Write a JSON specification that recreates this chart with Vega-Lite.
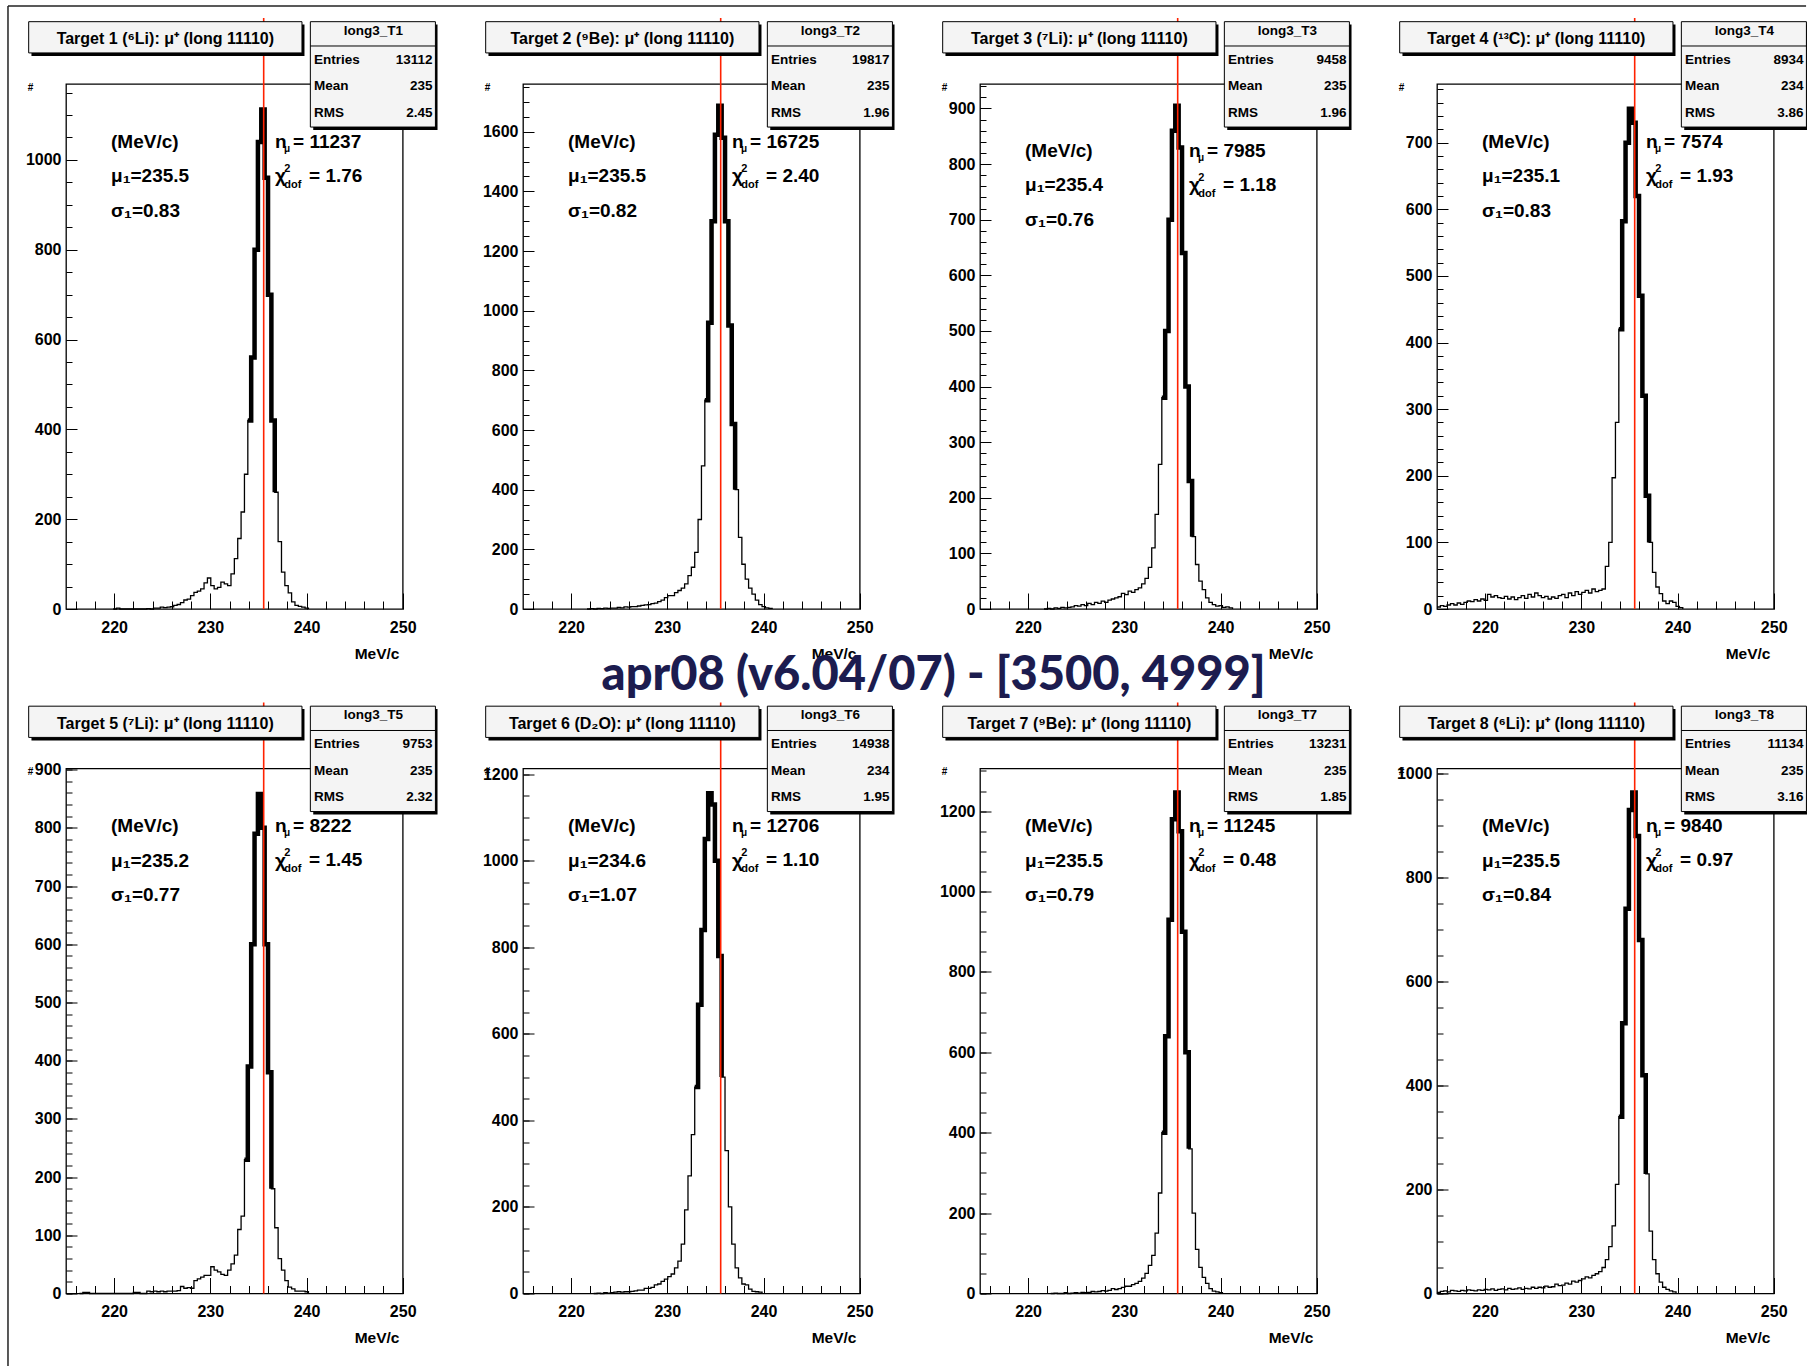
{
"$schema":"https://vega.github.io/schema/vega-lite/v6.json",
"background":"white",
"autosize":{"type":"pad"},
"padding":{"left":6,"top":4,"right":0,"bottom":0},
"datasets":{
"i":[
{"p":1,"t":"Target 1 (⁶Li): μ⁺ (long 11110)","h":"long3_T1","sv":["13112","235","2.45"],"l1":["(MeV/c)","μ₁=235.5","σ₁=0.83"],"nm":"= 11237","ch":"= 1.76"},
{"p":2,"t":"Target 2 (⁹Be): μ⁺ (long 11110)","h":"long3_T2","sv":["19817","235","1.96"],"l1":["(MeV/c)","μ₁=235.5","σ₁=0.82"],"nm":"= 16725","ch":"= 2.40"},
{"p":3,"t":"Target 3 (⁷Li): μ⁺ (long 11110)","h":"long3_T3","sv":["9458","235","1.96"],"l1":["(MeV/c)","μ₁=235.4","σ₁=0.76"],"nm":"= 7985","ch":"= 1.18"},
{"p":4,"t":"Target 4 (¹³C): μ⁺ (long 11110)","h":"long3_T4","sv":["8934","234","3.86"],"l1":["(MeV/c)","μ₁=235.1","σ₁=0.83"],"nm":"= 7574","ch":"= 1.93"},
{"p":5,"t":"Target 5 (⁷Li): μ⁺ (long 11110)","h":"long3_T5","sv":["9753","235","2.32"],"l1":["(MeV/c)","μ₁=235.2","σ₁=0.77"],"nm":"= 8222","ch":"= 1.45"},
{"p":6,"t":"Target 6 (D₂O): μ⁺ (long 11110)","h":"long3_T6","sv":["14938","234","1.95"],"l1":["(MeV/c)","μ₁=234.6","σ₁=1.07"],"nm":"= 12706","ch":"= 1.10"},
{"p":7,"t":"Target 7 (⁹Be): μ⁺ (long 11110)","h":"long3_T7","sv":["13231","235","1.85"],"l1":["(MeV/c)","μ₁=235.5","σ₁=0.79"],"nm":"= 11245","ch":"= 0.48"},
{"p":8,"t":"Target 8 (⁶Li): μ⁺ (long 11110)","h":"long3_T8","sv":["11134","235","3.16"],"l1":["(MeV/c)","μ₁=235.5","σ₁=0.84"],"nm":"= 9840","ch":"= 0.97"}
],
"h1":[{"x":219.9,"y":0},{"x":220.25,"y":2},{"x":220.6,"y":0},{"x":223.4,"y":1},{"x":223.75,"y":0},{"x":224.1,"y":2},{"x":224.45,"y":2},{"x":224.8,"y":4},{"x":225.15,"y":3},{"x":225.5,"y":4},{"x":225.85,"y":5},{"x":226.2,"y":8},{"x":226.55,"y":10},{"x":226.9,"y":14},{"x":227.25,"y":20},{"x":227.6,"y":22},{"x":227.95,"y":30},{"x":228.3,"y":37},{"x":228.65,"y":40},{"x":229,"y":45},{"x":229.35,"y":58},{"x":229.7,"y":69},{"x":230.05,"y":52},{"x":230.4,"y":45},{"x":230.75,"y":48},{"x":231.1,"y":60},{"x":231.45,"y":56},{"x":231.8,"y":52},{"x":232.15,"y":78},{"x":232.5,"y":112},{"x":232.85,"y":157},{"x":233.2,"y":216},{"x":233.55,"y":300},{"x":233.9,"y":420,"f":1},{"x":234.25,"y":560,"f":1},{"x":234.6,"y":800,"f":1},{"x":234.95,"y":1040,"f":1},{"x":235.3,"y":1112,"f":1},{"x":235.65,"y":960,"f":1},{"x":236,"y":700,"f":1},{"x":236.35,"y":420,"f":1},{"x":236.7,"y":260,"f":1},{"x":237.05,"y":150},{"x":237.4,"y":82},{"x":237.75,"y":52},{"x":238.1,"y":36},{"x":238.45,"y":16},{"x":238.8,"y":8},{"x":239.15,"y":6},{"x":239.5,"y":4},{"x":239.85,"y":2},{"x":240.2,"y":0}],
"h2":[{"x":221.65,"y":0},{"x":222,"y":1},{"x":222.35,"y":0},{"x":222.7,"y":2},{"x":223.05,"y":1},{"x":223.4,"y":3},{"x":223.75,"y":2},{"x":224.1,"y":3},{"x":224.45,"y":3},{"x":224.8,"y":5},{"x":225.15,"y":4},{"x":225.5,"y":7},{"x":225.85,"y":6},{"x":226.2,"y":8},{"x":226.55,"y":8},{"x":226.9,"y":10},{"x":227.25,"y":12},{"x":227.6,"y":14},{"x":227.95,"y":15},{"x":228.3,"y":18},{"x":228.65,"y":20},{"x":229,"y":25},{"x":229.35,"y":30},{"x":229.7,"y":38},{"x":230.05,"y":45},{"x":230.4,"y":45},{"x":230.75,"y":55},{"x":231.1,"y":62},{"x":231.45,"y":70},{"x":231.8,"y":84},{"x":232.15,"y":112},{"x":232.5,"y":140},{"x":232.85,"y":190},{"x":233.2,"y":300},{"x":233.55,"y":480},{"x":233.9,"y":700,"f":1},{"x":234.25,"y":960,"f":1},{"x":234.6,"y":1300,"f":1},{"x":234.95,"y":1590,"f":1},{"x":235.3,"y":1687,"f":1},{"x":235.65,"y":1580,"f":1},{"x":236,"y":1300,"f":1},{"x":236.35,"y":950,"f":1},{"x":236.7,"y":620,"f":1},{"x":237.05,"y":400,"f":1},{"x":237.4,"y":240},{"x":237.75,"y":150},{"x":238.1,"y":100},{"x":238.45,"y":70},{"x":238.8,"y":50},{"x":239.15,"y":30},{"x":239.5,"y":15},{"x":239.85,"y":8},{"x":240.2,"y":4},{"x":240.55,"y":2},{"x":240.9,"y":0}],
"h3":[{"x":221.65,"y":0},{"x":222,"y":1},{"x":222.35,"y":0},{"x":222.7,"y":2},{"x":223.05,"y":1},{"x":223.4,"y":3},{"x":223.75,"y":2},{"x":224.1,"y":3},{"x":224.45,"y":4},{"x":224.8,"y":6},{"x":225.15,"y":5},{"x":225.5,"y":8},{"x":225.85,"y":6},{"x":226.2,"y":10},{"x":226.55,"y":8},{"x":226.9,"y":12},{"x":227.25,"y":10},{"x":227.6,"y":14},{"x":227.95,"y":12},{"x":228.3,"y":16},{"x":228.65,"y":18},{"x":229,"y":20},{"x":229.35,"y":22},{"x":229.7,"y":28},{"x":230.05,"y":26},{"x":230.4,"y":32},{"x":230.75,"y":30},{"x":231.1,"y":35},{"x":231.45,"y":38},{"x":231.8,"y":45},{"x":232.15,"y":55},{"x":232.5,"y":75},{"x":232.85,"y":110},{"x":233.2,"y":170},{"x":233.55,"y":260},{"x":233.9,"y":380,"f":1},{"x":234.25,"y":500,"f":1},{"x":234.6,"y":700,"f":1},{"x":234.95,"y":860,"f":1},{"x":235.3,"y":905,"f":1},{"x":235.65,"y":830,"f":1},{"x":236,"y":640,"f":1},{"x":236.35,"y":400,"f":1},{"x":236.7,"y":230,"f":1},{"x":237.05,"y":130,"f":1},{"x":237.4,"y":80},{"x":237.75,"y":50},{"x":238.1,"y":35},{"x":238.45,"y":20},{"x":238.8,"y":12},{"x":239.15,"y":8},{"x":239.5,"y":5},{"x":239.85,"y":6},{"x":240.2,"y":3},{"x":240.55,"y":4},{"x":240.9,"y":2},{"x":241.25,"y":0}],
"h4":[{"x":215,"y":3},{"x":215.35,"y":5},{"x":215.7,"y":4},{"x":216.05,"y":6},{"x":216.4,"y":8},{"x":216.75,"y":6},{"x":217.1,"y":9},{"x":217.45,"y":7},{"x":217.8,"y":10},{"x":218.15,"y":12},{"x":218.5,"y":11},{"x":218.85,"y":14},{"x":219.2,"y":12},{"x":219.55,"y":15},{"x":219.9,"y":13},{"x":220.25,"y":22},{"x":220.6,"y":18},{"x":220.95,"y":20},{"x":221.3,"y":17},{"x":221.65,"y":16},{"x":222,"y":19},{"x":222.35,"y":15},{"x":222.7,"y":18},{"x":223.05,"y":14},{"x":223.4,"y":17},{"x":223.75,"y":20},{"x":224.1,"y":16},{"x":224.45,"y":22},{"x":224.8,"y":18},{"x":225.15,"y":24},{"x":225.5,"y":20},{"x":225.85,"y":17},{"x":226.2,"y":19},{"x":226.55,"y":15},{"x":226.9,"y":18},{"x":227.25,"y":16},{"x":227.6,"y":20},{"x":227.95,"y":22},{"x":228.3,"y":17},{"x":228.65,"y":24},{"x":229,"y":20},{"x":229.35,"y":26},{"x":229.7,"y":22},{"x":230.05,"y":25},{"x":230.4,"y":28},{"x":230.75,"y":24},{"x":231.1,"y":30},{"x":231.45,"y":26},{"x":231.8,"y":28},{"x":232.15,"y":30},{"x":232.5,"y":64},{"x":232.85,"y":100},{"x":233.2,"y":197},{"x":233.55,"y":280},{"x":233.9,"y":420,"f":1},{"x":234.25,"y":582,"f":1},{"x":234.6,"y":700,"f":1},{"x":234.95,"y":751,"f":1},{"x":235.3,"y":730,"f":1},{"x":235.65,"y":620,"f":1},{"x":236,"y":470,"f":1},{"x":236.35,"y":320,"f":1},{"x":236.7,"y":170,"f":1},{"x":237.05,"y":100,"f":1},{"x":237.4,"y":55},{"x":237.75,"y":33},{"x":238.1,"y":23},{"x":238.45,"y":12},{"x":238.8,"y":8},{"x":239.15,"y":12},{"x":239.5,"y":10},{"x":239.85,"y":4},{"x":240.2,"y":2},{"x":240.55,"y":0}],
"h5":[{"x":216.4,"y":0},{"x":216.75,"y":2},{"x":217.1,"y":2},{"x":217.45,"y":0},{"x":222,"y":2},{"x":222.35,"y":2},{"x":222.7,"y":0},{"x":223.4,"y":4},{"x":223.75,"y":3},{"x":224.1,"y":4},{"x":224.45,"y":3},{"x":224.8,"y":4},{"x":225.15,"y":3},{"x":225.5,"y":4},{"x":225.85,"y":4},{"x":226.2,"y":4},{"x":226.55,"y":5},{"x":226.9,"y":12},{"x":227.25,"y":9},{"x":227.6,"y":10},{"x":227.95,"y":9},{"x":228.3,"y":22},{"x":228.65,"y":25},{"x":229,"y":28},{"x":229.35,"y":31},{"x":229.7,"y":31},{"x":230.05,"y":46},{"x":230.4,"y":40},{"x":230.75,"y":37},{"x":231.1,"y":33},{"x":231.45,"y":31},{"x":231.8,"y":40},{"x":232.15,"y":51},{"x":232.5,"y":66},{"x":232.85,"y":110},{"x":233.2,"y":133},{"x":233.55,"y":230,"f":1},{"x":233.9,"y":390,"f":1},{"x":234.25,"y":600,"f":1},{"x":234.6,"y":790,"f":1},{"x":234.95,"y":858,"f":1},{"x":235.3,"y":800,"f":1},{"x":235.65,"y":600,"f":1},{"x":236,"y":380,"f":1},{"x":236.35,"y":180,"f":1},{"x":236.7,"y":113},{"x":237.05,"y":60},{"x":237.4,"y":40},{"x":237.75,"y":22},{"x":238.1,"y":11},{"x":238.45,"y":8},{"x":238.8,"y":4},{"x":239.15,"y":4},{"x":239.5,"y":4},{"x":239.85,"y":3},{"x":240.2,"y":0}],
"h6":[{"x":222.35,"y":0},{"x":222.7,"y":1},{"x":223.05,"y":0},{"x":223.4,"y":2},{"x":223.75,"y":1},{"x":224.1,"y":2},{"x":224.45,"y":3},{"x":224.8,"y":4},{"x":225.15,"y":3},{"x":225.5,"y":4},{"x":225.85,"y":4},{"x":226.2,"y":5},{"x":226.55,"y":6},{"x":226.9,"y":8},{"x":227.25,"y":8},{"x":227.6,"y":12},{"x":227.95,"y":12},{"x":228.3,"y":14},{"x":228.65,"y":20},{"x":229,"y":22},{"x":229.35,"y":28},{"x":229.7,"y":33},{"x":230.05,"y":39},{"x":230.4,"y":45},{"x":230.75,"y":59},{"x":231.1,"y":75},{"x":231.45,"y":114},{"x":231.8,"y":193},{"x":232.15,"y":272},{"x":232.5,"y":367},{"x":232.85,"y":477,"f":1},{"x":233.2,"y":667,"f":1},{"x":233.55,"y":840,"f":1},{"x":233.9,"y":1050,"f":1},{"x":234.25,"y":1156,"f":1},{"x":234.6,"y":1130,"f":1},{"x":234.95,"y":1000,"f":1},{"x":235.3,"y":780,"f":1},{"x":235.65,"y":500,"f":1},{"x":236,"y":330},{"x":236.35,"y":200},{"x":236.7,"y":114},{"x":237.05,"y":59},{"x":237.4,"y":36},{"x":237.75,"y":22},{"x":238.1,"y":20},{"x":238.45,"y":10},{"x":238.8,"y":5},{"x":239.15,"y":4},{"x":239.5,"y":3},{"x":239.85,"y":0}],
"h7":[{"x":222.35,"y":0},{"x":222.7,"y":1},{"x":223.05,"y":0},{"x":223.75,"y":2},{"x":224.1,"y":0},{"x":224.45,"y":1},{"x":224.8,"y":2},{"x":225.15,"y":1},{"x":225.5,"y":3},{"x":225.85,"y":2},{"x":226.2,"y":3},{"x":226.55,"y":5},{"x":226.9,"y":4},{"x":227.25,"y":5},{"x":227.6,"y":7},{"x":227.95,"y":6},{"x":228.3,"y":8},{"x":228.65,"y":12},{"x":229,"y":10},{"x":229.35,"y":12},{"x":229.7,"y":15},{"x":230.05,"y":18},{"x":230.4,"y":18},{"x":230.75,"y":22},{"x":231.1,"y":25},{"x":231.45,"y":30},{"x":231.8,"y":38},{"x":232.15,"y":50},{"x":232.5,"y":70},{"x":232.85,"y":95},{"x":233.2,"y":150},{"x":233.55,"y":250},{"x":233.9,"y":400,"f":1},{"x":234.25,"y":640,"f":1},{"x":234.6,"y":930,"f":1},{"x":234.95,"y":1180,"f":1},{"x":235.3,"y":1246,"f":1},{"x":235.65,"y":1150,"f":1},{"x":236,"y":900,"f":1},{"x":236.35,"y":600,"f":1},{"x":236.7,"y":360,"f":1},{"x":237.05,"y":200},{"x":237.4,"y":110},{"x":237.75,"y":65},{"x":238.1,"y":40},{"x":238.45,"y":25},{"x":238.8,"y":12},{"x":239.15,"y":6},{"x":239.5,"y":4},{"x":239.85,"y":2},{"x":240.2,"y":0}],
"h8":[{"x":215,"y":2},{"x":215.35,"y":4},{"x":215.7,"y":5},{"x":216.05,"y":3},{"x":216.4,"y":6},{"x":216.75,"y":5},{"x":217.1,"y":4},{"x":217.45,"y":6},{"x":217.8,"y":5},{"x":218.15,"y":7},{"x":218.5,"y":6},{"x":218.85,"y":5},{"x":219.2,"y":7},{"x":219.55,"y":6},{"x":219.9,"y":8},{"x":220.25,"y":7},{"x":220.6,"y":9},{"x":220.95,"y":6},{"x":221.3,"y":8},{"x":221.65,"y":9},{"x":222,"y":7},{"x":222.35,"y":10},{"x":222.7,"y":8},{"x":223.05,"y":9},{"x":223.4,"y":11},{"x":223.75,"y":8},{"x":224.1,"y":10},{"x":224.45,"y":9},{"x":224.8,"y":12},{"x":225.15,"y":10},{"x":225.5,"y":12},{"x":225.85,"y":11},{"x":226.2,"y":14},{"x":226.55,"y":12},{"x":226.9,"y":13},{"x":227.25,"y":18},{"x":227.6,"y":15},{"x":227.95,"y":16},{"x":228.3,"y":20},{"x":228.65,"y":18},{"x":229,"y":24},{"x":229.35,"y":22},{"x":229.7,"y":25},{"x":230.05,"y":28},{"x":230.4,"y":32},{"x":230.75,"y":30},{"x":231.1,"y":35},{"x":231.45,"y":38},{"x":231.8,"y":42},{"x":232.15,"y":50},{"x":232.5,"y":65},{"x":232.85,"y":90},{"x":233.2,"y":130},{"x":233.55,"y":210},{"x":233.9,"y":340,"f":1},{"x":234.25,"y":520,"f":1},{"x":234.6,"y":740,"f":1},{"x":234.95,"y":930,"f":1},{"x":235.3,"y":964,"f":1},{"x":235.65,"y":880,"f":1},{"x":236,"y":680,"f":1},{"x":236.35,"y":420,"f":1},{"x":236.7,"y":230,"f":1},{"x":237.05,"y":120},{"x":237.4,"y":65},{"x":237.75,"y":38},{"x":238.1,"y":22},{"x":238.45,"y":12},{"x":238.8,"y":8},{"x":239.15,"y":5},{"x":239.5,"y":3},{"x":239.85,"y":0}]
},
"columns":4,
"spacing":{"row":159.5,"column":120},
"bounds":"flush",
"concat":[
{"data":{"name":"i"},"transform":[{"filter":"datum.p===1"}],"width":336.7,"height":525,
"resolve":{"scale":{"y":"independent"},"axis":{"x":"independent","y":"independent"}},
"layer":[
{"data":{"name":"h1"},"mark":{"type":"line","interpolate":"step-after","color":"black","strokeWidth":1.3},"encoding":{"x":{"field":"x","type":"quantitative","scale":{"domain":[215,250]},"axis":{"values":[220,230,240,250],"title":"MeV/c"}},"y":{"field":"y","type":"quantitative","scale":{"domain":[0,1169]},"axis":{"tickCount":7,"title":"#"}}}},
{"data":{"name":"h1"},"transform":[{"filter":"datum.f===1"}],"mark":{"type":"line","interpolate":"step-after","color":"black","strokeWidth":4.5},"encoding":{"x":{"field":"x","type":"quantitative","scale":{"domain":[215,250]},"axis":{"values":[216,218,222,224,226,228,232,234,236,238,242,244,246,248],"tickSize":-8,"labels":false,"title":null,"orient":"bottom"}},"y":{"field":"y","type":"quantitative","scale":{"domain":[0,1169]},"axis":{"tickCount":31,"tickSize":-6,"labels":false,"title":null,"orient":"left"}}}},
{"mark":{"type":"rule","color":"#ff2200","strokeWidth":1.6},"encoding":{"x":{"datum":235.55,"type":"quantitative","scale":{"domain":[215,250]},"axis":null},"y":{"datum":0,"type":"quantitative","scale":{"domain":[0,1]},"axis":null},"y2":{"datum":1.1257}}},
{"mark":{"type":"rect","fill":"black"},"encoding":{"x":{"datum":211.41,"type":"quantitative","scale":{"domain":[215,250]},"axis":null},"x2":{"datum":239.79},"y":{"datum":1.0535,"type":"quantitative","scale":{"domain":[0,1]},"axis":null},"y2":{"datum":1.1133}}},
{"mark":{"type":"rect","fill":"#f4f4f4","stroke":"black","strokeWidth":1},"encoding":{"x":{"datum":211.12,"type":"quantitative","scale":{"domain":[215,250]},"axis":null},"x2":{"datum":239.53},"y":{"datum":1.0592,"type":"quantitative","scale":{"domain":[0,1]},"axis":null},"y2":{"datum":1.1187}}},
{"mark":{"type":"rect","fill":"black"},"encoding":{"x":{"datum":240.7,"type":"quantitative","scale":{"domain":[215,250]},"axis":null},"x2":{"datum":253.62},"y":{"datum":0.9124,"type":"quantitative","scale":{"domain":[0,1]},"axis":null},"y2":{"datum":1.1133}}},
{"mark":{"type":"rect","fill":"#f4f4f4","stroke":"black","strokeWidth":1},"encoding":{"x":{"datum":240.4,"type":"quantitative","scale":{"domain":[215,250]},"axis":null},"x2":{"datum":253.4},"y":{"datum":0.918,"type":"quantitative","scale":{"domain":[0,1]},"axis":null},"y2":{"datum":1.1187}}},
{"mark":{"type":"rule","color":"black","strokeWidth":1},"encoding":{"x":{"datum":240.4,"type":"quantitative","scale":{"domain":[215,250]},"axis":null},"x2":{"datum":253.4},"y":{"datum":1.0724,"type":"quantitative","scale":{"domain":[0,1]},"axis":null}}},
{"mark":{"type":"text","fontSize":16,"align":"center","baseline":"middle"},"encoding":{"x":{"datum":225.33,"type":"quantitative","scale":{"domain":[215,250]},"axis":null},"y":{"datum":1.0857,"type":"quantitative","scale":{"domain":[0,1]},"axis":null},"text":{"field":"t","type":"nominal"}}},
{"mark":{"type":"text","fontSize":13.5,"align":"center","baseline":"middle"},"encoding":{"x":{"datum":246.95,"type":"quantitative","scale":{"domain":[215,250]},"axis":null},"y":{"datum":1.101,"type":"quantitative","scale":{"domain":[0,1]},"axis":null},"text":{"field":"h","type":"nominal"}}},
{"mark":{"type":"text","fontSize":13.5,"align":"left","baseline":"middle","lineHeight":26.5},"encoding":{"x":{"datum":240.78,"type":"quantitative","scale":{"domain":[215,250]},"axis":null},"y":{"datum":1.0461,"type":"quantitative","scale":{"domain":[0,1]},"axis":null},"text":{"value":["Entries","Mean","RMS"]}}},
{"mark":{"type":"text","fontSize":13.5,"align":"right","baseline":"middle","lineHeight":26.5},"encoding":{"x":{"datum":253.1,"type":"quantitative","scale":{"domain":[215,250]},"axis":null},"y":{"datum":1.0461,"type":"quantitative","scale":{"domain":[0,1]},"axis":null},"text":{"field":"sv","type":"nominal"}}},
{"mark":{"type":"text","fontSize":19,"align":"left","baseline":"middle","lineHeight":34.5},"encoding":{"x":{"datum":219.68,"type":"quantitative","scale":{"domain":[215,250]},"axis":null},"y":{"datum":0.8903,"type":"quantitative","scale":{"domain":[0,1]},"axis":null},"text":{"field":"l1","type":"nominal"}}},
{"mark":{"type":"text","fontSize":19,"align":"left","baseline":"middle","lineHeight":34.5},"encoding":{"x":{"datum":236.73,"type":"quantitative","scale":{"domain":[215,250]},"axis":null},"y":{"datum":0.8903,"type":"quantitative","scale":{"domain":[0,1]},"axis":null},"text":{"value":["n","χ"]}}},
{"mark":{"type":"text","fontSize":10,"align":"left","baseline":"middle"},"encoding":{"x":{"datum":237.66,"type":"quantitative","scale":{"domain":[215,250]},"axis":null},"y":{"datum":0.8762,"type":"quantitative","scale":{"domain":[0,1]},"axis":null},"text":{"value":"μ"}}},
{"mark":{"type":"text","fontSize":11,"align":"left","baseline":"middle","lineHeight":16},"encoding":{"x":{"datum":237.7,"type":"quantitative","scale":{"domain":[215,250]},"axis":null},"y":{"datum":0.8381,"type":"quantitative","scale":{"domain":[0,1]},"axis":null},"text":{"value":["2","dof"]}}},
{"mark":{"type":"text","fontSize":19,"align":"left","baseline":"middle"},"encoding":{"x":{"datum":238.6,"type":"quantitative","scale":{"domain":[215,250]},"axis":null},"y":{"datum":0.8903,"type":"quantitative","scale":{"domain":[0,1]},"axis":null},"text":{"field":"nm","type":"nominal"}}},
{"mark":{"type":"text","fontSize":19,"align":"left","baseline":"middle"},"encoding":{"x":{"datum":240.26,"type":"quantitative","scale":{"domain":[215,250]},"axis":null},"y":{"datum":0.8248,"type":"quantitative","scale":{"domain":[0,1]},"axis":null},"text":{"field":"ch","type":"nominal"}}},
{"mark":{"type":"rule","color":"#222222","strokeWidth":1.5},"encoding":{"x":{"datum":208.97,"type":"quantitative","scale":{"domain":[215,250]},"axis":null},"x2":{"datum":395.88},"y":{"datum":1.1486,"type":"quantitative","scale":{"domain":[0,1]},"axis":null}}},
{"mark":{"type":"rule","color":"#222222","strokeWidth":1.5},"encoding":{"x":{"datum":208.97,"type":"quantitative","scale":{"domain":[215,250]},"axis":null},"y":{"datum":1.1486,"type":"quantitative","scale":{"domain":[0,1]},"axis":null},"y2":{"datum":-1.4419}}}
]},
{"data":{"name":"i"},"transform":[{"filter":"datum.p===2"}],"width":336.7,"height":525,
"resolve":{"scale":{"y":"independent"},"axis":{"x":"independent","y":"independent"}},
"layer":[
{"data":{"name":"h2"},"mark":{"type":"line","interpolate":"step-after","color":"black","strokeWidth":1.3},"encoding":{"x":{"field":"x","type":"quantitative","scale":{"domain":[215,250]},"axis":{"values":[220,230,240,250],"title":"MeV/c"}},"y":{"field":"y","type":"quantitative","scale":{"domain":[0,1760]},"axis":{"tickCount":7,"title":"#"}}}},
{"data":{"name":"h2"},"transform":[{"filter":"datum.f===1"}],"mark":{"type":"line","interpolate":"step-after","color":"black","strokeWidth":4.5},"encoding":{"x":{"field":"x","type":"quantitative","scale":{"domain":[215,250]},"axis":{"values":[216,218,222,224,226,228,232,234,236,238,242,244,246,248],"tickSize":-8,"labels":false,"title":null,"orient":"bottom"}},"y":{"field":"y","type":"quantitative","scale":{"domain":[0,1760]},"axis":{"tickCount":31,"tickSize":-6,"labels":false,"title":null,"orient":"left"}}}},
{"mark":{"type":"rule","color":"#ff2200","strokeWidth":1.6},"encoding":{"x":{"datum":235.55,"type":"quantitative","scale":{"domain":[215,250]},"axis":null},"y":{"datum":0,"type":"quantitative","scale":{"domain":[0,1]},"axis":null},"y2":{"datum":1.1257}}},
{"mark":{"type":"rect","fill":"black"},"encoding":{"x":{"datum":211.41,"type":"quantitative","scale":{"domain":[215,250]},"axis":null},"x2":{"datum":239.79},"y":{"datum":1.0535,"type":"quantitative","scale":{"domain":[0,1]},"axis":null},"y2":{"datum":1.1133}}},
{"mark":{"type":"rect","fill":"#f4f4f4","stroke":"black","strokeWidth":1},"encoding":{"x":{"datum":211.12,"type":"quantitative","scale":{"domain":[215,250]},"axis":null},"x2":{"datum":239.53},"y":{"datum":1.0592,"type":"quantitative","scale":{"domain":[0,1]},"axis":null},"y2":{"datum":1.1187}}},
{"mark":{"type":"rect","fill":"black"},"encoding":{"x":{"datum":240.7,"type":"quantitative","scale":{"domain":[215,250]},"axis":null},"x2":{"datum":253.62},"y":{"datum":0.9124,"type":"quantitative","scale":{"domain":[0,1]},"axis":null},"y2":{"datum":1.1133}}},
{"mark":{"type":"rect","fill":"#f4f4f4","stroke":"black","strokeWidth":1},"encoding":{"x":{"datum":240.4,"type":"quantitative","scale":{"domain":[215,250]},"axis":null},"x2":{"datum":253.4},"y":{"datum":0.918,"type":"quantitative","scale":{"domain":[0,1]},"axis":null},"y2":{"datum":1.1187}}},
{"mark":{"type":"rule","color":"black","strokeWidth":1},"encoding":{"x":{"datum":240.4,"type":"quantitative","scale":{"domain":[215,250]},"axis":null},"x2":{"datum":253.4},"y":{"datum":1.0724,"type":"quantitative","scale":{"domain":[0,1]},"axis":null}}},
{"mark":{"type":"text","fontSize":16,"align":"center","baseline":"middle"},"encoding":{"x":{"datum":225.33,"type":"quantitative","scale":{"domain":[215,250]},"axis":null},"y":{"datum":1.0857,"type":"quantitative","scale":{"domain":[0,1]},"axis":null},"text":{"field":"t","type":"nominal"}}},
{"mark":{"type":"text","fontSize":13.5,"align":"center","baseline":"middle"},"encoding":{"x":{"datum":246.95,"type":"quantitative","scale":{"domain":[215,250]},"axis":null},"y":{"datum":1.101,"type":"quantitative","scale":{"domain":[0,1]},"axis":null},"text":{"field":"h","type":"nominal"}}},
{"mark":{"type":"text","fontSize":13.5,"align":"left","baseline":"middle","lineHeight":26.5},"encoding":{"x":{"datum":240.78,"type":"quantitative","scale":{"domain":[215,250]},"axis":null},"y":{"datum":1.0461,"type":"quantitative","scale":{"domain":[0,1]},"axis":null},"text":{"value":["Entries","Mean","RMS"]}}},
{"mark":{"type":"text","fontSize":13.5,"align":"right","baseline":"middle","lineHeight":26.5},"encoding":{"x":{"datum":253.1,"type":"quantitative","scale":{"domain":[215,250]},"axis":null},"y":{"datum":1.0461,"type":"quantitative","scale":{"domain":[0,1]},"axis":null},"text":{"field":"sv","type":"nominal"}}},
{"mark":{"type":"text","fontSize":19,"align":"left","baseline":"middle","lineHeight":34.5},"encoding":{"x":{"datum":219.68,"type":"quantitative","scale":{"domain":[215,250]},"axis":null},"y":{"datum":0.8903,"type":"quantitative","scale":{"domain":[0,1]},"axis":null},"text":{"field":"l1","type":"nominal"}}},
{"mark":{"type":"text","fontSize":19,"align":"left","baseline":"middle","lineHeight":34.5},"encoding":{"x":{"datum":236.73,"type":"quantitative","scale":{"domain":[215,250]},"axis":null},"y":{"datum":0.8903,"type":"quantitative","scale":{"domain":[0,1]},"axis":null},"text":{"value":["n","χ"]}}},
{"mark":{"type":"text","fontSize":10,"align":"left","baseline":"middle"},"encoding":{"x":{"datum":237.66,"type":"quantitative","scale":{"domain":[215,250]},"axis":null},"y":{"datum":0.8762,"type":"quantitative","scale":{"domain":[0,1]},"axis":null},"text":{"value":"μ"}}},
{"mark":{"type":"text","fontSize":11,"align":"left","baseline":"middle","lineHeight":16},"encoding":{"x":{"datum":237.7,"type":"quantitative","scale":{"domain":[215,250]},"axis":null},"y":{"datum":0.8381,"type":"quantitative","scale":{"domain":[0,1]},"axis":null},"text":{"value":["2","dof"]}}},
{"mark":{"type":"text","fontSize":19,"align":"left","baseline":"middle"},"encoding":{"x":{"datum":238.6,"type":"quantitative","scale":{"domain":[215,250]},"axis":null},"y":{"datum":0.8903,"type":"quantitative","scale":{"domain":[0,1]},"axis":null},"text":{"field":"nm","type":"nominal"}}},
{"mark":{"type":"text","fontSize":19,"align":"left","baseline":"middle"},"encoding":{"x":{"datum":240.26,"type":"quantitative","scale":{"domain":[215,250]},"axis":null},"y":{"datum":0.8248,"type":"quantitative","scale":{"domain":[0,1]},"axis":null},"text":{"field":"ch","type":"nominal"}}}
]},
{"data":{"name":"i"},"transform":[{"filter":"datum.p===3"}],"width":336.7,"height":525,
"resolve":{"scale":{"y":"independent"},"axis":{"x":"independent","y":"independent"}},
"layer":[
{"data":{"name":"h3"},"mark":{"type":"line","interpolate":"step-after","color":"black","strokeWidth":1.3},"encoding":{"x":{"field":"x","type":"quantitative","scale":{"domain":[215,250]},"axis":{"values":[220,230,240,250],"title":"MeV/c"}},"y":{"field":"y","type":"quantitative","scale":{"domain":[0,944]},"axis":{"tickCount":7,"title":"#"}}}},
{"data":{"name":"h3"},"transform":[{"filter":"datum.f===1"}],"mark":{"type":"line","interpolate":"step-after","color":"black","strokeWidth":4.5},"encoding":{"x":{"field":"x","type":"quantitative","scale":{"domain":[215,250]},"axis":{"values":[216,218,222,224,226,228,232,234,236,238,242,244,246,248],"tickSize":-8,"labels":false,"title":null,"orient":"bottom"}},"y":{"field":"y","type":"quantitative","scale":{"domain":[0,944]},"axis":{"tickCount":31,"tickSize":-6,"labels":false,"title":null,"orient":"left"}}}},
{"mark":{"type":"rule","color":"#ff2200","strokeWidth":1.6},"encoding":{"x":{"datum":235.55,"type":"quantitative","scale":{"domain":[215,250]},"axis":null},"y":{"datum":0,"type":"quantitative","scale":{"domain":[0,1]},"axis":null},"y2":{"datum":1.1257}}},
{"mark":{"type":"rect","fill":"black"},"encoding":{"x":{"datum":211.41,"type":"quantitative","scale":{"domain":[215,250]},"axis":null},"x2":{"datum":239.79},"y":{"datum":1.0535,"type":"quantitative","scale":{"domain":[0,1]},"axis":null},"y2":{"datum":1.1133}}},
{"mark":{"type":"rect","fill":"#f4f4f4","stroke":"black","strokeWidth":1},"encoding":{"x":{"datum":211.12,"type":"quantitative","scale":{"domain":[215,250]},"axis":null},"x2":{"datum":239.53},"y":{"datum":1.0592,"type":"quantitative","scale":{"domain":[0,1]},"axis":null},"y2":{"datum":1.1187}}},
{"mark":{"type":"rect","fill":"black"},"encoding":{"x":{"datum":240.7,"type":"quantitative","scale":{"domain":[215,250]},"axis":null},"x2":{"datum":253.62},"y":{"datum":0.9124,"type":"quantitative","scale":{"domain":[0,1]},"axis":null},"y2":{"datum":1.1133}}},
{"mark":{"type":"rect","fill":"#f4f4f4","stroke":"black","strokeWidth":1},"encoding":{"x":{"datum":240.4,"type":"quantitative","scale":{"domain":[215,250]},"axis":null},"x2":{"datum":253.4},"y":{"datum":0.918,"type":"quantitative","scale":{"domain":[0,1]},"axis":null},"y2":{"datum":1.1187}}},
{"mark":{"type":"rule","color":"black","strokeWidth":1},"encoding":{"x":{"datum":240.4,"type":"quantitative","scale":{"domain":[215,250]},"axis":null},"x2":{"datum":253.4},"y":{"datum":1.0724,"type":"quantitative","scale":{"domain":[0,1]},"axis":null}}},
{"mark":{"type":"text","fontSize":16,"align":"center","baseline":"middle"},"encoding":{"x":{"datum":225.33,"type":"quantitative","scale":{"domain":[215,250]},"axis":null},"y":{"datum":1.0857,"type":"quantitative","scale":{"domain":[0,1]},"axis":null},"text":{"field":"t","type":"nominal"}}},
{"mark":{"type":"text","fontSize":13.5,"align":"center","baseline":"middle"},"encoding":{"x":{"datum":246.95,"type":"quantitative","scale":{"domain":[215,250]},"axis":null},"y":{"datum":1.101,"type":"quantitative","scale":{"domain":[0,1]},"axis":null},"text":{"field":"h","type":"nominal"}}},
{"mark":{"type":"text","fontSize":13.5,"align":"left","baseline":"middle","lineHeight":26.5},"encoding":{"x":{"datum":240.78,"type":"quantitative","scale":{"domain":[215,250]},"axis":null},"y":{"datum":1.0461,"type":"quantitative","scale":{"domain":[0,1]},"axis":null},"text":{"value":["Entries","Mean","RMS"]}}},
{"mark":{"type":"text","fontSize":13.5,"align":"right","baseline":"middle","lineHeight":26.5},"encoding":{"x":{"datum":253.1,"type":"quantitative","scale":{"domain":[215,250]},"axis":null},"y":{"datum":1.0461,"type":"quantitative","scale":{"domain":[0,1]},"axis":null},"text":{"field":"sv","type":"nominal"}}},
{"mark":{"type":"text","fontSize":19,"align":"left","baseline":"middle","lineHeight":34.5},"encoding":{"x":{"datum":219.68,"type":"quantitative","scale":{"domain":[215,250]},"axis":null},"y":{"datum":0.8727,"type":"quantitative","scale":{"domain":[0,1]},"axis":null},"text":{"field":"l1","type":"nominal"}}},
{"mark":{"type":"text","fontSize":19,"align":"left","baseline":"middle","lineHeight":34.5},"encoding":{"x":{"datum":236.73,"type":"quantitative","scale":{"domain":[215,250]},"axis":null},"y":{"datum":0.8727,"type":"quantitative","scale":{"domain":[0,1]},"axis":null},"text":{"value":["n","χ"]}}},
{"mark":{"type":"text","fontSize":10,"align":"left","baseline":"middle"},"encoding":{"x":{"datum":237.66,"type":"quantitative","scale":{"domain":[215,250]},"axis":null},"y":{"datum":0.8586,"type":"quantitative","scale":{"domain":[0,1]},"axis":null},"text":{"value":"μ"}}},
{"mark":{"type":"text","fontSize":11,"align":"left","baseline":"middle","lineHeight":16},"encoding":{"x":{"datum":237.7,"type":"quantitative","scale":{"domain":[215,250]},"axis":null},"y":{"datum":0.8205,"type":"quantitative","scale":{"domain":[0,1]},"axis":null},"text":{"value":["2","dof"]}}},
{"mark":{"type":"text","fontSize":19,"align":"left","baseline":"middle"},"encoding":{"x":{"datum":238.6,"type":"quantitative","scale":{"domain":[215,250]},"axis":null},"y":{"datum":0.8727,"type":"quantitative","scale":{"domain":[0,1]},"axis":null},"text":{"field":"nm","type":"nominal"}}},
{"mark":{"type":"text","fontSize":19,"align":"left","baseline":"middle"},"encoding":{"x":{"datum":240.26,"type":"quantitative","scale":{"domain":[215,250]},"axis":null},"y":{"datum":0.8072,"type":"quantitative","scale":{"domain":[0,1]},"axis":null},"text":{"field":"ch","type":"nominal"}}}
]},
{"data":{"name":"i"},"transform":[{"filter":"datum.p===4"}],"width":336.7,"height":525,
"resolve":{"scale":{"y":"independent"},"axis":{"x":"independent","y":"independent"}},
"layer":[
{"data":{"name":"h4"},"mark":{"type":"line","interpolate":"step-after","color":"black","strokeWidth":1.3},"encoding":{"x":{"field":"x","type":"quantitative","scale":{"domain":[215,250]},"axis":{"values":[220,230,240,250],"title":"MeV/c"}},"y":{"field":"y","type":"quantitative","scale":{"domain":[0,788]},"axis":{"tickCount":7,"title":"#"}}}},
{"data":{"name":"h4"},"transform":[{"filter":"datum.f===1"}],"mark":{"type":"line","interpolate":"step-after","color":"black","strokeWidth":4.5},"encoding":{"x":{"field":"x","type":"quantitative","scale":{"domain":[215,250]},"axis":{"values":[216,218,222,224,226,228,232,234,236,238,242,244,246,248],"tickSize":-8,"labels":false,"title":null,"orient":"bottom"}},"y":{"field":"y","type":"quantitative","scale":{"domain":[0,788]},"axis":{"tickCount":31,"tickSize":-6,"labels":false,"title":null,"orient":"left"}}}},
{"mark":{"type":"rule","color":"#ff2200","strokeWidth":1.6},"encoding":{"x":{"datum":235.55,"type":"quantitative","scale":{"domain":[215,250]},"axis":null},"y":{"datum":0,"type":"quantitative","scale":{"domain":[0,1]},"axis":null},"y2":{"datum":1.1257}}},
{"mark":{"type":"rect","fill":"black"},"encoding":{"x":{"datum":211.41,"type":"quantitative","scale":{"domain":[215,250]},"axis":null},"x2":{"datum":239.79},"y":{"datum":1.0535,"type":"quantitative","scale":{"domain":[0,1]},"axis":null},"y2":{"datum":1.1133}}},
{"mark":{"type":"rect","fill":"#f4f4f4","stroke":"black","strokeWidth":1},"encoding":{"x":{"datum":211.12,"type":"quantitative","scale":{"domain":[215,250]},"axis":null},"x2":{"datum":239.53},"y":{"datum":1.0592,"type":"quantitative","scale":{"domain":[0,1]},"axis":null},"y2":{"datum":1.1187}}},
{"mark":{"type":"rect","fill":"black"},"encoding":{"x":{"datum":240.7,"type":"quantitative","scale":{"domain":[215,250]},"axis":null},"x2":{"datum":253.62},"y":{"datum":0.9124,"type":"quantitative","scale":{"domain":[0,1]},"axis":null},"y2":{"datum":1.1133}}},
{"mark":{"type":"rect","fill":"#f4f4f4","stroke":"black","strokeWidth":1},"encoding":{"x":{"datum":240.4,"type":"quantitative","scale":{"domain":[215,250]},"axis":null},"x2":{"datum":253.4},"y":{"datum":0.918,"type":"quantitative","scale":{"domain":[0,1]},"axis":null},"y2":{"datum":1.1187}}},
{"mark":{"type":"rule","color":"black","strokeWidth":1},"encoding":{"x":{"datum":240.4,"type":"quantitative","scale":{"domain":[215,250]},"axis":null},"x2":{"datum":253.4},"y":{"datum":1.0724,"type":"quantitative","scale":{"domain":[0,1]},"axis":null}}},
{"mark":{"type":"text","fontSize":16,"align":"center","baseline":"middle"},"encoding":{"x":{"datum":225.33,"type":"quantitative","scale":{"domain":[215,250]},"axis":null},"y":{"datum":1.0857,"type":"quantitative","scale":{"domain":[0,1]},"axis":null},"text":{"field":"t","type":"nominal"}}},
{"mark":{"type":"text","fontSize":13.5,"align":"center","baseline":"middle"},"encoding":{"x":{"datum":246.95,"type":"quantitative","scale":{"domain":[215,250]},"axis":null},"y":{"datum":1.101,"type":"quantitative","scale":{"domain":[0,1]},"axis":null},"text":{"field":"h","type":"nominal"}}},
{"mark":{"type":"text","fontSize":13.5,"align":"left","baseline":"middle","lineHeight":26.5},"encoding":{"x":{"datum":240.78,"type":"quantitative","scale":{"domain":[215,250]},"axis":null},"y":{"datum":1.0461,"type":"quantitative","scale":{"domain":[0,1]},"axis":null},"text":{"value":["Entries","Mean","RMS"]}}},
{"mark":{"type":"text","fontSize":13.5,"align":"right","baseline":"middle","lineHeight":26.5},"encoding":{"x":{"datum":253.1,"type":"quantitative","scale":{"domain":[215,250]},"axis":null},"y":{"datum":1.0461,"type":"quantitative","scale":{"domain":[0,1]},"axis":null},"text":{"field":"sv","type":"nominal"}}},
{"mark":{"type":"text","fontSize":19,"align":"left","baseline":"middle","lineHeight":34.5},"encoding":{"x":{"datum":219.68,"type":"quantitative","scale":{"domain":[215,250]},"axis":null},"y":{"datum":0.8903,"type":"quantitative","scale":{"domain":[0,1]},"axis":null},"text":{"field":"l1","type":"nominal"}}},
{"mark":{"type":"text","fontSize":19,"align":"left","baseline":"middle","lineHeight":34.5},"encoding":{"x":{"datum":236.73,"type":"quantitative","scale":{"domain":[215,250]},"axis":null},"y":{"datum":0.8903,"type":"quantitative","scale":{"domain":[0,1]},"axis":null},"text":{"value":["n","χ"]}}},
{"mark":{"type":"text","fontSize":10,"align":"left","baseline":"middle"},"encoding":{"x":{"datum":237.66,"type":"quantitative","scale":{"domain":[215,250]},"axis":null},"y":{"datum":0.8762,"type":"quantitative","scale":{"domain":[0,1]},"axis":null},"text":{"value":"μ"}}},
{"mark":{"type":"text","fontSize":11,"align":"left","baseline":"middle","lineHeight":16},"encoding":{"x":{"datum":237.7,"type":"quantitative","scale":{"domain":[215,250]},"axis":null},"y":{"datum":0.8381,"type":"quantitative","scale":{"domain":[0,1]},"axis":null},"text":{"value":["2","dof"]}}},
{"mark":{"type":"text","fontSize":19,"align":"left","baseline":"middle"},"encoding":{"x":{"datum":238.6,"type":"quantitative","scale":{"domain":[215,250]},"axis":null},"y":{"datum":0.8903,"type":"quantitative","scale":{"domain":[0,1]},"axis":null},"text":{"field":"nm","type":"nominal"}}},
{"mark":{"type":"text","fontSize":19,"align":"left","baseline":"middle"},"encoding":{"x":{"datum":240.26,"type":"quantitative","scale":{"domain":[215,250]},"axis":null},"y":{"datum":0.8248,"type":"quantitative","scale":{"domain":[0,1]},"axis":null},"text":{"field":"ch","type":"nominal"}}}
]},
{"data":{"name":"i"},"transform":[{"filter":"datum.p===5"}],"width":336.7,"height":525,
"resolve":{"scale":{"y":"independent"},"axis":{"x":"independent","y":"independent"}},
"layer":[
{"data":{"name":"h5"},"mark":{"type":"line","interpolate":"step-after","color":"black","strokeWidth":1.3},"encoding":{"x":{"field":"x","type":"quantitative","scale":{"domain":[215,250]},"axis":{"values":[220,230,240,250],"title":"MeV/c"}},"y":{"field":"y","type":"quantitative","scale":{"domain":[0,902]},"axis":{"tickCount":7,"title":"#"}}}},
{"data":{"name":"h5"},"transform":[{"filter":"datum.f===1"}],"mark":{"type":"line","interpolate":"step-after","color":"black","strokeWidth":4.5},"encoding":{"x":{"field":"x","type":"quantitative","scale":{"domain":[215,250]},"axis":{"values":[216,218,222,224,226,228,232,234,236,238,242,244,246,248],"tickSize":-8,"labels":false,"title":null,"orient":"bottom"}},"y":{"field":"y","type":"quantitative","scale":{"domain":[0,902]},"axis":{"tickCount":31,"tickSize":-6,"labels":false,"title":null,"orient":"left"}}}},
{"mark":{"type":"rule","color":"#ff2200","strokeWidth":1.6},"encoding":{"x":{"datum":235.55,"type":"quantitative","scale":{"domain":[215,250]},"axis":null},"y":{"datum":0,"type":"quantitative","scale":{"domain":[0,1]},"axis":null},"y2":{"datum":1.1257}}},
{"mark":{"type":"rect","fill":"black"},"encoding":{"x":{"datum":211.41,"type":"quantitative","scale":{"domain":[215,250]},"axis":null},"x2":{"datum":239.79},"y":{"datum":1.0535,"type":"quantitative","scale":{"domain":[0,1]},"axis":null},"y2":{"datum":1.1133}}},
{"mark":{"type":"rect","fill":"#f4f4f4","stroke":"black","strokeWidth":1},"encoding":{"x":{"datum":211.12,"type":"quantitative","scale":{"domain":[215,250]},"axis":null},"x2":{"datum":239.53},"y":{"datum":1.0592,"type":"quantitative","scale":{"domain":[0,1]},"axis":null},"y2":{"datum":1.1187}}},
{"mark":{"type":"rect","fill":"black"},"encoding":{"x":{"datum":240.7,"type":"quantitative","scale":{"domain":[215,250]},"axis":null},"x2":{"datum":253.62},"y":{"datum":0.9124,"type":"quantitative","scale":{"domain":[0,1]},"axis":null},"y2":{"datum":1.1133}}},
{"mark":{"type":"rect","fill":"#f4f4f4","stroke":"black","strokeWidth":1},"encoding":{"x":{"datum":240.4,"type":"quantitative","scale":{"domain":[215,250]},"axis":null},"x2":{"datum":253.4},"y":{"datum":0.918,"type":"quantitative","scale":{"domain":[0,1]},"axis":null},"y2":{"datum":1.1187}}},
{"mark":{"type":"rule","color":"black","strokeWidth":1},"encoding":{"x":{"datum":240.4,"type":"quantitative","scale":{"domain":[215,250]},"axis":null},"x2":{"datum":253.4},"y":{"datum":1.0724,"type":"quantitative","scale":{"domain":[0,1]},"axis":null}}},
{"mark":{"type":"text","fontSize":16,"align":"center","baseline":"middle"},"encoding":{"x":{"datum":225.33,"type":"quantitative","scale":{"domain":[215,250]},"axis":null},"y":{"datum":1.0857,"type":"quantitative","scale":{"domain":[0,1]},"axis":null},"text":{"field":"t","type":"nominal"}}},
{"mark":{"type":"text","fontSize":13.5,"align":"center","baseline":"middle"},"encoding":{"x":{"datum":246.95,"type":"quantitative","scale":{"domain":[215,250]},"axis":null},"y":{"datum":1.101,"type":"quantitative","scale":{"domain":[0,1]},"axis":null},"text":{"field":"h","type":"nominal"}}},
{"mark":{"type":"text","fontSize":13.5,"align":"left","baseline":"middle","lineHeight":26.5},"encoding":{"x":{"datum":240.78,"type":"quantitative","scale":{"domain":[215,250]},"axis":null},"y":{"datum":1.0461,"type":"quantitative","scale":{"domain":[0,1]},"axis":null},"text":{"value":["Entries","Mean","RMS"]}}},
{"mark":{"type":"text","fontSize":13.5,"align":"right","baseline":"middle","lineHeight":26.5},"encoding":{"x":{"datum":253.1,"type":"quantitative","scale":{"domain":[215,250]},"axis":null},"y":{"datum":1.0461,"type":"quantitative","scale":{"domain":[0,1]},"axis":null},"text":{"field":"sv","type":"nominal"}}},
{"mark":{"type":"text","fontSize":19,"align":"left","baseline":"middle","lineHeight":34.5},"encoding":{"x":{"datum":219.68,"type":"quantitative","scale":{"domain":[215,250]},"axis":null},"y":{"datum":0.8903,"type":"quantitative","scale":{"domain":[0,1]},"axis":null},"text":{"field":"l1","type":"nominal"}}},
{"mark":{"type":"text","fontSize":19,"align":"left","baseline":"middle","lineHeight":34.5},"encoding":{"x":{"datum":236.73,"type":"quantitative","scale":{"domain":[215,250]},"axis":null},"y":{"datum":0.8903,"type":"quantitative","scale":{"domain":[0,1]},"axis":null},"text":{"value":["n","χ"]}}},
{"mark":{"type":"text","fontSize":10,"align":"left","baseline":"middle"},"encoding":{"x":{"datum":237.66,"type":"quantitative","scale":{"domain":[215,250]},"axis":null},"y":{"datum":0.8762,"type":"quantitative","scale":{"domain":[0,1]},"axis":null},"text":{"value":"μ"}}},
{"mark":{"type":"text","fontSize":11,"align":"left","baseline":"middle","lineHeight":16},"encoding":{"x":{"datum":237.7,"type":"quantitative","scale":{"domain":[215,250]},"axis":null},"y":{"datum":0.8381,"type":"quantitative","scale":{"domain":[0,1]},"axis":null},"text":{"value":["2","dof"]}}},
{"mark":{"type":"text","fontSize":19,"align":"left","baseline":"middle"},"encoding":{"x":{"datum":238.6,"type":"quantitative","scale":{"domain":[215,250]},"axis":null},"y":{"datum":0.8903,"type":"quantitative","scale":{"domain":[0,1]},"axis":null},"text":{"field":"nm","type":"nominal"}}},
{"mark":{"type":"text","fontSize":19,"align":"left","baseline":"middle"},"encoding":{"x":{"datum":240.26,"type":"quantitative","scale":{"domain":[215,250]},"axis":null},"y":{"datum":0.8248,"type":"quantitative","scale":{"domain":[0,1]},"axis":null},"text":{"field":"ch","type":"nominal"}}}
]},
{"data":{"name":"i"},"transform":[{"filter":"datum.p===6"}],"width":336.7,"height":525,
"resolve":{"scale":{"y":"independent"},"axis":{"x":"independent","y":"independent"}},
"layer":[
{"data":{"name":"h6"},"mark":{"type":"line","interpolate":"step-after","color":"black","strokeWidth":1.3},"encoding":{"x":{"field":"x","type":"quantitative","scale":{"domain":[215,250]},"axis":{"values":[220,230,240,250],"title":"MeV/c"}},"y":{"field":"y","type":"quantitative","scale":{"domain":[0,1213]},"axis":{"tickCount":7,"title":"#"}}}},
{"data":{"name":"h6"},"transform":[{"filter":"datum.f===1"}],"mark":{"type":"line","interpolate":"step-after","color":"black","strokeWidth":4.5},"encoding":{"x":{"field":"x","type":"quantitative","scale":{"domain":[215,250]},"axis":{"values":[216,218,222,224,226,228,232,234,236,238,242,244,246,248],"tickSize":-8,"labels":false,"title":null,"orient":"bottom"}},"y":{"field":"y","type":"quantitative","scale":{"domain":[0,1213]},"axis":{"tickCount":31,"tickSize":-6,"labels":false,"title":null,"orient":"left"}}}},
{"mark":{"type":"rule","color":"#ff2200","strokeWidth":1.6},"encoding":{"x":{"datum":235.55,"type":"quantitative","scale":{"domain":[215,250]},"axis":null},"y":{"datum":0,"type":"quantitative","scale":{"domain":[0,1]},"axis":null},"y2":{"datum":1.1257}}},
{"mark":{"type":"rect","fill":"black"},"encoding":{"x":{"datum":211.41,"type":"quantitative","scale":{"domain":[215,250]},"axis":null},"x2":{"datum":239.79},"y":{"datum":1.0535,"type":"quantitative","scale":{"domain":[0,1]},"axis":null},"y2":{"datum":1.1133}}},
{"mark":{"type":"rect","fill":"#f4f4f4","stroke":"black","strokeWidth":1},"encoding":{"x":{"datum":211.12,"type":"quantitative","scale":{"domain":[215,250]},"axis":null},"x2":{"datum":239.53},"y":{"datum":1.0592,"type":"quantitative","scale":{"domain":[0,1]},"axis":null},"y2":{"datum":1.1187}}},
{"mark":{"type":"rect","fill":"black"},"encoding":{"x":{"datum":240.7,"type":"quantitative","scale":{"domain":[215,250]},"axis":null},"x2":{"datum":253.62},"y":{"datum":0.9124,"type":"quantitative","scale":{"domain":[0,1]},"axis":null},"y2":{"datum":1.1133}}},
{"mark":{"type":"rect","fill":"#f4f4f4","stroke":"black","strokeWidth":1},"encoding":{"x":{"datum":240.4,"type":"quantitative","scale":{"domain":[215,250]},"axis":null},"x2":{"datum":253.4},"y":{"datum":0.918,"type":"quantitative","scale":{"domain":[0,1]},"axis":null},"y2":{"datum":1.1187}}},
{"mark":{"type":"rule","color":"black","strokeWidth":1},"encoding":{"x":{"datum":240.4,"type":"quantitative","scale":{"domain":[215,250]},"axis":null},"x2":{"datum":253.4},"y":{"datum":1.0724,"type":"quantitative","scale":{"domain":[0,1]},"axis":null}}},
{"mark":{"type":"text","fontSize":16,"align":"center","baseline":"middle"},"encoding":{"x":{"datum":225.33,"type":"quantitative","scale":{"domain":[215,250]},"axis":null},"y":{"datum":1.0857,"type":"quantitative","scale":{"domain":[0,1]},"axis":null},"text":{"field":"t","type":"nominal"}}},
{"mark":{"type":"text","fontSize":13.5,"align":"center","baseline":"middle"},"encoding":{"x":{"datum":246.95,"type":"quantitative","scale":{"domain":[215,250]},"axis":null},"y":{"datum":1.101,"type":"quantitative","scale":{"domain":[0,1]},"axis":null},"text":{"field":"h","type":"nominal"}}},
{"mark":{"type":"text","fontSize":13.5,"align":"left","baseline":"middle","lineHeight":26.5},"encoding":{"x":{"datum":240.78,"type":"quantitative","scale":{"domain":[215,250]},"axis":null},"y":{"datum":1.0461,"type":"quantitative","scale":{"domain":[0,1]},"axis":null},"text":{"value":["Entries","Mean","RMS"]}}},
{"mark":{"type":"text","fontSize":13.5,"align":"right","baseline":"middle","lineHeight":26.5},"encoding":{"x":{"datum":253.1,"type":"quantitative","scale":{"domain":[215,250]},"axis":null},"y":{"datum":1.0461,"type":"quantitative","scale":{"domain":[0,1]},"axis":null},"text":{"field":"sv","type":"nominal"}}},
{"mark":{"type":"text","fontSize":19,"align":"left","baseline":"middle","lineHeight":34.5},"encoding":{"x":{"datum":219.68,"type":"quantitative","scale":{"domain":[215,250]},"axis":null},"y":{"datum":0.8903,"type":"quantitative","scale":{"domain":[0,1]},"axis":null},"text":{"field":"l1","type":"nominal"}}},
{"mark":{"type":"text","fontSize":19,"align":"left","baseline":"middle","lineHeight":34.5},"encoding":{"x":{"datum":236.73,"type":"quantitative","scale":{"domain":[215,250]},"axis":null},"y":{"datum":0.8903,"type":"quantitative","scale":{"domain":[0,1]},"axis":null},"text":{"value":["n","χ"]}}},
{"mark":{"type":"text","fontSize":10,"align":"left","baseline":"middle"},"encoding":{"x":{"datum":237.66,"type":"quantitative","scale":{"domain":[215,250]},"axis":null},"y":{"datum":0.8762,"type":"quantitative","scale":{"domain":[0,1]},"axis":null},"text":{"value":"μ"}}},
{"mark":{"type":"text","fontSize":11,"align":"left","baseline":"middle","lineHeight":16},"encoding":{"x":{"datum":237.7,"type":"quantitative","scale":{"domain":[215,250]},"axis":null},"y":{"datum":0.8381,"type":"quantitative","scale":{"domain":[0,1]},"axis":null},"text":{"value":["2","dof"]}}},
{"mark":{"type":"text","fontSize":19,"align":"left","baseline":"middle"},"encoding":{"x":{"datum":238.6,"type":"quantitative","scale":{"domain":[215,250]},"axis":null},"y":{"datum":0.8903,"type":"quantitative","scale":{"domain":[0,1]},"axis":null},"text":{"field":"nm","type":"nominal"}}},
{"mark":{"type":"text","fontSize":19,"align":"left","baseline":"middle"},"encoding":{"x":{"datum":240.26,"type":"quantitative","scale":{"domain":[215,250]},"axis":null},"y":{"datum":0.8248,"type":"quantitative","scale":{"domain":[0,1]},"axis":null},"text":{"field":"ch","type":"nominal"}}},
{"mark":{"type":"text","fontSize":47,"font":"Lato","fontWeight":900,"align":"center","baseline":"middle","color":"#1c1c4f"},"encoding":{"x":{"datum":257.69,"type":"quantitative","scale":{"domain":[215,250]},"axis":null},"y":{"datum":1.176,"type":"quantitative","scale":{"domain":[0,1]},"axis":null},"text":{"value":"apr08 (v6.04/07) - [3500, 4999]"}}}
]},
{"data":{"name":"i"},"transform":[{"filter":"datum.p===7"}],"width":336.7,"height":525,
"resolve":{"scale":{"y":"independent"},"axis":{"x":"independent","y":"independent"}},
"layer":[
{"data":{"name":"h7"},"mark":{"type":"line","interpolate":"step-after","color":"black","strokeWidth":1.3},"encoding":{"x":{"field":"x","type":"quantitative","scale":{"domain":[215,250]},"axis":{"values":[220,230,240,250],"title":"MeV/c"}},"y":{"field":"y","type":"quantitative","scale":{"domain":[0,1306]},"axis":{"tickCount":7,"title":"#"}}}},
{"data":{"name":"h7"},"transform":[{"filter":"datum.f===1"}],"mark":{"type":"line","interpolate":"step-after","color":"black","strokeWidth":4.5},"encoding":{"x":{"field":"x","type":"quantitative","scale":{"domain":[215,250]},"axis":{"values":[216,218,222,224,226,228,232,234,236,238,242,244,246,248],"tickSize":-8,"labels":false,"title":null,"orient":"bottom"}},"y":{"field":"y","type":"quantitative","scale":{"domain":[0,1306]},"axis":{"tickCount":31,"tickSize":-6,"labels":false,"title":null,"orient":"left"}}}},
{"mark":{"type":"rule","color":"#ff2200","strokeWidth":1.6},"encoding":{"x":{"datum":235.55,"type":"quantitative","scale":{"domain":[215,250]},"axis":null},"y":{"datum":0,"type":"quantitative","scale":{"domain":[0,1]},"axis":null},"y2":{"datum":1.1257}}},
{"mark":{"type":"rect","fill":"black"},"encoding":{"x":{"datum":211.41,"type":"quantitative","scale":{"domain":[215,250]},"axis":null},"x2":{"datum":239.79},"y":{"datum":1.0535,"type":"quantitative","scale":{"domain":[0,1]},"axis":null},"y2":{"datum":1.1133}}},
{"mark":{"type":"rect","fill":"#f4f4f4","stroke":"black","strokeWidth":1},"encoding":{"x":{"datum":211.12,"type":"quantitative","scale":{"domain":[215,250]},"axis":null},"x2":{"datum":239.53},"y":{"datum":1.0592,"type":"quantitative","scale":{"domain":[0,1]},"axis":null},"y2":{"datum":1.1187}}},
{"mark":{"type":"rect","fill":"black"},"encoding":{"x":{"datum":240.7,"type":"quantitative","scale":{"domain":[215,250]},"axis":null},"x2":{"datum":253.62},"y":{"datum":0.9124,"type":"quantitative","scale":{"domain":[0,1]},"axis":null},"y2":{"datum":1.1133}}},
{"mark":{"type":"rect","fill":"#f4f4f4","stroke":"black","strokeWidth":1},"encoding":{"x":{"datum":240.4,"type":"quantitative","scale":{"domain":[215,250]},"axis":null},"x2":{"datum":253.4},"y":{"datum":0.918,"type":"quantitative","scale":{"domain":[0,1]},"axis":null},"y2":{"datum":1.1187}}},
{"mark":{"type":"rule","color":"black","strokeWidth":1},"encoding":{"x":{"datum":240.4,"type":"quantitative","scale":{"domain":[215,250]},"axis":null},"x2":{"datum":253.4},"y":{"datum":1.0724,"type":"quantitative","scale":{"domain":[0,1]},"axis":null}}},
{"mark":{"type":"text","fontSize":16,"align":"center","baseline":"middle"},"encoding":{"x":{"datum":225.33,"type":"quantitative","scale":{"domain":[215,250]},"axis":null},"y":{"datum":1.0857,"type":"quantitative","scale":{"domain":[0,1]},"axis":null},"text":{"field":"t","type":"nominal"}}},
{"mark":{"type":"text","fontSize":13.5,"align":"center","baseline":"middle"},"encoding":{"x":{"datum":246.95,"type":"quantitative","scale":{"domain":[215,250]},"axis":null},"y":{"datum":1.101,"type":"quantitative","scale":{"domain":[0,1]},"axis":null},"text":{"field":"h","type":"nominal"}}},
{"mark":{"type":"text","fontSize":13.5,"align":"left","baseline":"middle","lineHeight":26.5},"encoding":{"x":{"datum":240.78,"type":"quantitative","scale":{"domain":[215,250]},"axis":null},"y":{"datum":1.0461,"type":"quantitative","scale":{"domain":[0,1]},"axis":null},"text":{"value":["Entries","Mean","RMS"]}}},
{"mark":{"type":"text","fontSize":13.5,"align":"right","baseline":"middle","lineHeight":26.5},"encoding":{"x":{"datum":253.1,"type":"quantitative","scale":{"domain":[215,250]},"axis":null},"y":{"datum":1.0461,"type":"quantitative","scale":{"domain":[0,1]},"axis":null},"text":{"field":"sv","type":"nominal"}}},
{"mark":{"type":"text","fontSize":19,"align":"left","baseline":"middle","lineHeight":34.5},"encoding":{"x":{"datum":219.68,"type":"quantitative","scale":{"domain":[215,250]},"axis":null},"y":{"datum":0.8903,"type":"quantitative","scale":{"domain":[0,1]},"axis":null},"text":{"field":"l1","type":"nominal"}}},
{"mark":{"type":"text","fontSize":19,"align":"left","baseline":"middle","lineHeight":34.5},"encoding":{"x":{"datum":236.73,"type":"quantitative","scale":{"domain":[215,250]},"axis":null},"y":{"datum":0.8903,"type":"quantitative","scale":{"domain":[0,1]},"axis":null},"text":{"value":["n","χ"]}}},
{"mark":{"type":"text","fontSize":10,"align":"left","baseline":"middle"},"encoding":{"x":{"datum":237.66,"type":"quantitative","scale":{"domain":[215,250]},"axis":null},"y":{"datum":0.8762,"type":"quantitative","scale":{"domain":[0,1]},"axis":null},"text":{"value":"μ"}}},
{"mark":{"type":"text","fontSize":11,"align":"left","baseline":"middle","lineHeight":16},"encoding":{"x":{"datum":237.7,"type":"quantitative","scale":{"domain":[215,250]},"axis":null},"y":{"datum":0.8381,"type":"quantitative","scale":{"domain":[0,1]},"axis":null},"text":{"value":["2","dof"]}}},
{"mark":{"type":"text","fontSize":19,"align":"left","baseline":"middle"},"encoding":{"x":{"datum":238.6,"type":"quantitative","scale":{"domain":[215,250]},"axis":null},"y":{"datum":0.8903,"type":"quantitative","scale":{"domain":[0,1]},"axis":null},"text":{"field":"nm","type":"nominal"}}},
{"mark":{"type":"text","fontSize":19,"align":"left","baseline":"middle"},"encoding":{"x":{"datum":240.26,"type":"quantitative","scale":{"domain":[215,250]},"axis":null},"y":{"datum":0.8248,"type":"quantitative","scale":{"domain":[0,1]},"axis":null},"text":{"field":"ch","type":"nominal"}}}
]},
{"data":{"name":"i"},"transform":[{"filter":"datum.p===8"}],"width":336.7,"height":525,
"resolve":{"scale":{"y":"independent"},"axis":{"x":"independent","y":"independent"}},
"layer":[
{"data":{"name":"h8"},"mark":{"type":"line","interpolate":"step-after","color":"black","strokeWidth":1.3},"encoding":{"x":{"field":"x","type":"quantitative","scale":{"domain":[215,250]},"axis":{"values":[220,230,240,250],"title":"MeV/c"}},"y":{"field":"y","type":"quantitative","scale":{"domain":[0,1010]},"axis":{"tickCount":7,"title":"#"}}}},
{"data":{"name":"h8"},"transform":[{"filter":"datum.f===1"}],"mark":{"type":"line","interpolate":"step-after","color":"black","strokeWidth":4.5},"encoding":{"x":{"field":"x","type":"quantitative","scale":{"domain":[215,250]},"axis":{"values":[216,218,222,224,226,228,232,234,236,238,242,244,246,248],"tickSize":-8,"labels":false,"title":null,"orient":"bottom"}},"y":{"field":"y","type":"quantitative","scale":{"domain":[0,1010]},"axis":{"tickCount":31,"tickSize":-6,"labels":false,"title":null,"orient":"left"}}}},
{"mark":{"type":"rule","color":"#ff2200","strokeWidth":1.6},"encoding":{"x":{"datum":235.55,"type":"quantitative","scale":{"domain":[215,250]},"axis":null},"y":{"datum":0,"type":"quantitative","scale":{"domain":[0,1]},"axis":null},"y2":{"datum":1.1257}}},
{"mark":{"type":"rect","fill":"black"},"encoding":{"x":{"datum":211.41,"type":"quantitative","scale":{"domain":[215,250]},"axis":null},"x2":{"datum":239.79},"y":{"datum":1.0535,"type":"quantitative","scale":{"domain":[0,1]},"axis":null},"y2":{"datum":1.1133}}},
{"mark":{"type":"rect","fill":"#f4f4f4","stroke":"black","strokeWidth":1},"encoding":{"x":{"datum":211.12,"type":"quantitative","scale":{"domain":[215,250]},"axis":null},"x2":{"datum":239.53},"y":{"datum":1.0592,"type":"quantitative","scale":{"domain":[0,1]},"axis":null},"y2":{"datum":1.1187}}},
{"mark":{"type":"rect","fill":"black"},"encoding":{"x":{"datum":240.7,"type":"quantitative","scale":{"domain":[215,250]},"axis":null},"x2":{"datum":253.62},"y":{"datum":0.9124,"type":"quantitative","scale":{"domain":[0,1]},"axis":null},"y2":{"datum":1.1133}}},
{"mark":{"type":"rect","fill":"#f4f4f4","stroke":"black","strokeWidth":1},"encoding":{"x":{"datum":240.4,"type":"quantitative","scale":{"domain":[215,250]},"axis":null},"x2":{"datum":253.4},"y":{"datum":0.918,"type":"quantitative","scale":{"domain":[0,1]},"axis":null},"y2":{"datum":1.1187}}},
{"mark":{"type":"rule","color":"black","strokeWidth":1},"encoding":{"x":{"datum":240.4,"type":"quantitative","scale":{"domain":[215,250]},"axis":null},"x2":{"datum":253.4},"y":{"datum":1.0724,"type":"quantitative","scale":{"domain":[0,1]},"axis":null}}},
{"mark":{"type":"text","fontSize":16,"align":"center","baseline":"middle"},"encoding":{"x":{"datum":225.33,"type":"quantitative","scale":{"domain":[215,250]},"axis":null},"y":{"datum":1.0857,"type":"quantitative","scale":{"domain":[0,1]},"axis":null},"text":{"field":"t","type":"nominal"}}},
{"mark":{"type":"text","fontSize":13.5,"align":"center","baseline":"middle"},"encoding":{"x":{"datum":246.95,"type":"quantitative","scale":{"domain":[215,250]},"axis":null},"y":{"datum":1.101,"type":"quantitative","scale":{"domain":[0,1]},"axis":null},"text":{"field":"h","type":"nominal"}}},
{"mark":{"type":"text","fontSize":13.5,"align":"left","baseline":"middle","lineHeight":26.5},"encoding":{"x":{"datum":240.78,"type":"quantitative","scale":{"domain":[215,250]},"axis":null},"y":{"datum":1.0461,"type":"quantitative","scale":{"domain":[0,1]},"axis":null},"text":{"value":["Entries","Mean","RMS"]}}},
{"mark":{"type":"text","fontSize":13.5,"align":"right","baseline":"middle","lineHeight":26.5},"encoding":{"x":{"datum":253.1,"type":"quantitative","scale":{"domain":[215,250]},"axis":null},"y":{"datum":1.0461,"type":"quantitative","scale":{"domain":[0,1]},"axis":null},"text":{"field":"sv","type":"nominal"}}},
{"mark":{"type":"text","fontSize":19,"align":"left","baseline":"middle","lineHeight":34.5},"encoding":{"x":{"datum":219.68,"type":"quantitative","scale":{"domain":[215,250]},"axis":null},"y":{"datum":0.8903,"type":"quantitative","scale":{"domain":[0,1]},"axis":null},"text":{"field":"l1","type":"nominal"}}},
{"mark":{"type":"text","fontSize":19,"align":"left","baseline":"middle","lineHeight":34.5},"encoding":{"x":{"datum":236.73,"type":"quantitative","scale":{"domain":[215,250]},"axis":null},"y":{"datum":0.8903,"type":"quantitative","scale":{"domain":[0,1]},"axis":null},"text":{"value":["n","χ"]}}},
{"mark":{"type":"text","fontSize":10,"align":"left","baseline":"middle"},"encoding":{"x":{"datum":237.66,"type":"quantitative","scale":{"domain":[215,250]},"axis":null},"y":{"datum":0.8762,"type":"quantitative","scale":{"domain":[0,1]},"axis":null},"text":{"value":"μ"}}},
{"mark":{"type":"text","fontSize":11,"align":"left","baseline":"middle","lineHeight":16},"encoding":{"x":{"datum":237.7,"type":"quantitative","scale":{"domain":[215,250]},"axis":null},"y":{"datum":0.8381,"type":"quantitative","scale":{"domain":[0,1]},"axis":null},"text":{"value":["2","dof"]}}},
{"mark":{"type":"text","fontSize":19,"align":"left","baseline":"middle"},"encoding":{"x":{"datum":238.6,"type":"quantitative","scale":{"domain":[215,250]},"axis":null},"y":{"datum":0.8903,"type":"quantitative","scale":{"domain":[0,1]},"axis":null},"text":{"field":"nm","type":"nominal"}}},
{"mark":{"type":"text","fontSize":19,"align":"left","baseline":"middle"},"encoding":{"x":{"datum":240.26,"type":"quantitative","scale":{"domain":[215,250]},"axis":null},"y":{"datum":0.8248,"type":"quantitative","scale":{"domain":[0,1]},"axis":null},"text":{"field":"ch","type":"nominal"}}}
]}
],
"config":{
 "view":{"stroke":"black","strokeWidth":1.3},
 "font":"Liberation Sans",
 "numberFormat":"d",
 "axis":{"domain":false,"grid":false,"tickColor":"black","tickWidth":1,"labelColor":"black","labelFont":"Liberation Sans","labelFontSize":16,"labelFontWeight":"bold","labelFlush":false,"labelOverlap":false,"titleColor":"black","titleFont":"Liberation Sans","titleFontWeight":"bold"},
 "axisX":{"tickSize":-16,"labelPadding":26,"titleX":333,"titleY":44,"titleAlign":"right","titleBaseline":"middle","titleFontSize":15.5},
 "axisY":{"tickSize":-11,"labelPadding":16,"titleFontSize":10,"titleAngle":0,"titleX":-36,"titleY":3,"titleAlign":"center","titleBaseline":"middle"},
 "text":{"font":"Liberation Sans","fontWeight":"bold","color":"black"}
}
}
